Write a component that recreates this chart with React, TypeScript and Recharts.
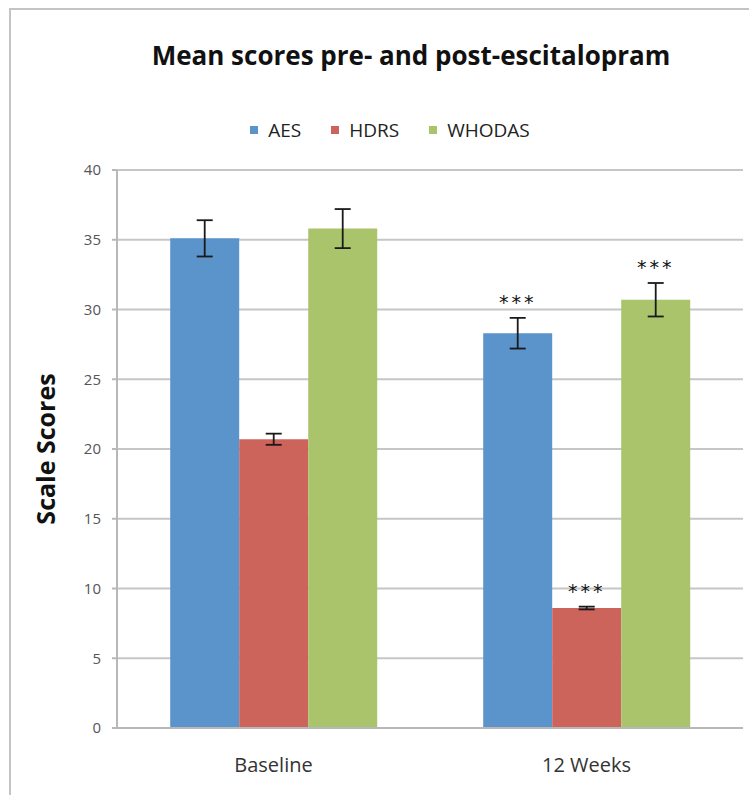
import React from "react";
import {
  BarChart,
  Bar,
  XAxis,
  YAxis,
  CartesianGrid,
  ErrorBar,
  LabelList,
} from "recharts";

const categories = ["Baseline", "12 Weeks"];
const aes = [35.1, 28.3];
const aesErr = [1.3, 1.1];
const hdrs = [20.7, 8.6];
const hdrsErr = [0.4, 0.1];
const whodas = [35.8, 30.7];
const whodasErr = [1.4, 1.2];
const significance = ["", "***"];
const yTicks = [0, 5, 10, 15, 20, 25, 30, 35, 40];

const series = [
  { key: "aes", name: "AES", color: "#5b93cb", values: aes, errors: aesErr },
  { key: "hdrs", name: "HDRS", color: "#cd645c", values: hdrs, errors: hdrsErr },
  { key: "whodas", name: "WHODAS", color: "#a9c46a", values: whodas, errors: whodasErr },
];

const data = categories.map((name, i) => ({
  name,
  aes: aes[i],
  aesErr: aesErr[i],
  hdrs: hdrs[i],
  hdrsErr: hdrsErr[i],
  whodas: whodas[i],
  whodasErr: whodasErr[i],
  sig: significance[i],
}));

const FONT = "'Open Sans', 'DejaVu Sans', sans-serif";

function starLabel(values: number[], errors: number[]) {
  return (props: any) => {
    const { x, y, width, height, index, value } = props;
    if (!value) return null;
    const pxPerUnit = height / values[index];
    const errTop = y - errors[index] * pxPerUnit;
    return (
      <text
        x={x + width / 2}
        y={errTop - 9}
        textAnchor="middle"
        fontSize={19}
        fontFamily="'DejaVu Sans', sans-serif"
        letterSpacing={3}
        fill="#111"
      >
        {value}
      </text>
    );
  };
}

export default function App() {
  return (
    <div
      style={{
        position: "absolute",
        left: 0,
        top: 0,
        width: 749,
        height: 795,
        overflow: "hidden",
        background: "#fff",
        fontFamily: FONT,
      }}
    >
      <div
        style={{
          position: "absolute",
          left: 9,
          top: 8,
          width: 800,
          height: 820,
          border: "2px solid #c4c4c4",
        }}
      />
      <div
        style={{
          position: "absolute",
          left: 0,
          top: 37,
          width: 822,
          textAlign: "center",
          fontSize: 26,
          fontWeight: 700,
          color: "#111",
        }}
      >
        Mean scores pre- and post-escitalopram
      </div>
      <div
        style={{
          position: "absolute",
          left: 0,
          top: 117,
          width: 780,
          display: "flex",
          justifyContent: "center",
          gap: 30,
          fontSize: 19,
          color: "#222",
        }}
      >
        {series.map((s) => (
          <div key={s.key} style={{ display: "flex", alignItems: "center", gap: 10 }}>
            <div style={{ width: 8, height: 8, background: s.color }} />
            <span>{s.name}</span>
          </div>
        ))}
      </div>
      <BarChart
        width={749}
        height={795}
        data={data}
        margin={{ top: 170, right: 6, bottom: 0, left: 0 }}
        barCategoryGap="17%"
        barGap={0}
        style={{ position: "absolute", left: 0, top: 0 }}
      >
        <CartesianGrid vertical={false} stroke="#c6c6c6" strokeWidth={2} />
        <XAxis
          dataKey="name"
          height={67}
          tickLine={false}
          tickSize={0}
          tickMargin={30}
          axisLine={{ stroke: "#b8b8b8", strokeWidth: 2 }}
          tick={{ fontSize: 20, fill: "#333", fontFamily: FONT }}
        />
        <YAxis
          width={117}
          domain={[0, 40]}
          ticks={yTicks}
          interval={0}
          tickSize={5}
          tickMargin={11}
          axisLine={{ stroke: "#b8b8b8", strokeWidth: 2 }}
          tickLine={{ stroke: "#b8b8b8", strokeWidth: 2 }}
          tick={{ fontSize: 15, fill: "#555", fontFamily: FONT }}
          label={{
            value: "Scale Scores",
            angle: -90,
            position: "insideLeft",
            offset: 46,
            style: { fontSize: 25, fontWeight: 700, fill: "#111", fontFamily: FONT, textAnchor: "middle" },
          }}
        />
        {series.map((s) => (
          <Bar key={s.key} dataKey={s.key} name={s.name} fill={s.color} isAnimationActive={false}>
            <ErrorBar dataKey={`${s.key}Err`} width={8} stroke="#1a1a1a" strokeWidth={1.8} direction="y" />
            <LabelList dataKey="sig" content={starLabel(s.values, s.errors)} />
          </Bar>
        ))}
      </BarChart>
    </div>
  );
}
